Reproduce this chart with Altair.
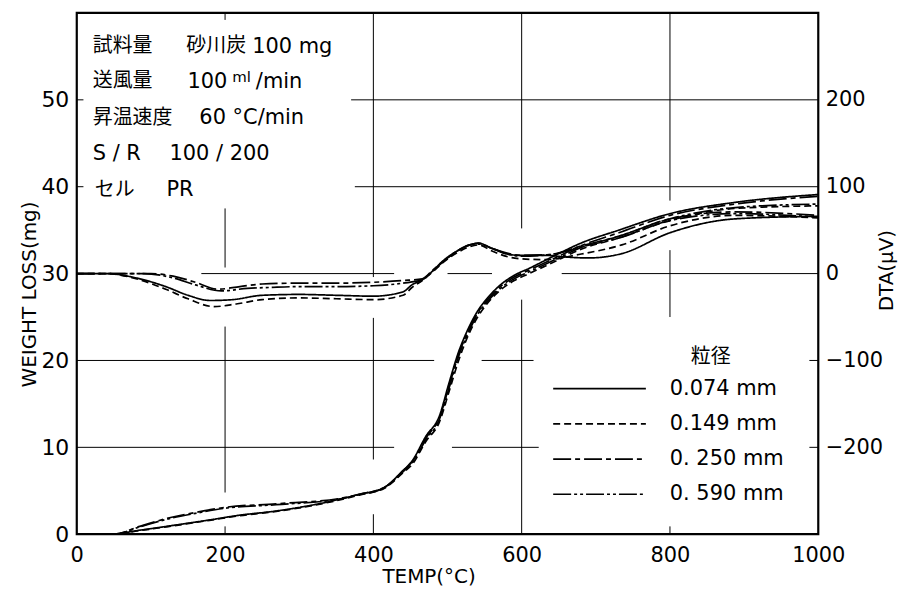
import altair as alt
import pandas as pd

# ---------------- data ----------------
sizes = ["0.074 mm", "0.149 mm", "0. 250 mm", "0. 590 mm"]
dash_styles = [[1, 0], [7, 4], [18, 4, 5, 4], [18, 3, 3, 3, 3, 3]]

# TG (weight loss, mg)
tg_t_a = [0, 44, 85, 125, 179, 219, 269, 336, 381, 415, 439, 452, 471, 489, 502, 515, 526, 540, 555, 570, 590, 610, 650, 677, 731, 800, 888, 1000]
tg_074 = [0, 0, 0.46, 0.95, 1.64, 2.18, 2.67, 3.67, 4.59, 5.39, 7.26, 8.4, 11.3, 13.6, 17.4, 21.0, 23.3, 25.6, 27.3, 28.6, 29.8, 30.6, 32.3, 33.4, 35.0, 36.9, 38.2, 39.1]
tg_149 = [0, 0, 0.42, 0.9, 1.6, 2.12, 2.62, 3.6, 4.5, 5.3, 7.0, 8.0, 10.7, 12.9, 16.4, 20.0, 22.5, 24.9, 26.7, 28.0, 29.2, 30.0, 31.6, 32.7, 34.1, 36.1, 37.5, 37.8]
tg_t_b = [0, 50, 85, 125, 160, 201, 269, 354, 381, 415, 439, 452, 471, 489, 502, 515, 526, 540, 555, 570, 590, 610, 650, 677, 731, 800, 888, 1000]
tg_250 = [0, 0, 0.9, 1.9, 2.5, 3.1, 3.5, 4.1, 4.6, 5.4, 7.2, 8.3, 11.1, 13.4, 17.0, 20.7, 23.0, 25.4, 27.1, 28.4, 29.6, 30.4, 32.0, 33.1, 34.7, 36.7, 38.0, 38.9]
tg_590 = [0, 0, 0.85, 1.8, 2.4, 3.0, 3.4, 4.05, 4.55, 5.35, 7.1, 8.2, 10.9, 13.2, 16.8, 20.5, 22.8, 25.2, 26.9, 28.2, 29.4, 30.2, 31.8, 32.9, 34.3, 36.3, 37.6, 38.0]

# DTA (uV)
dta_t_074 = [0, 40, 80, 120, 150, 180, 210, 250, 300, 350, 400, 440, 452, 466, 480, 493, 515, 530, 542, 560, 583, 600, 632, 660, 690, 735, 800, 888, 1000]
dta_074 = [0, 0, -5, -15, -25, -31, -30, -25, -24, -25, -26, -21, -13, -7, 3, 14, 27, 33, 35, 29, 22, 21, 21, 19, 18, 23, 47, 63, 66]
dta_t_149 = [0, 40, 80, 120, 150, 185, 215, 250, 300, 350, 400, 440, 452, 466, 480, 493, 515, 530, 542, 560, 583, 600, 632, 677, 735, 800, 888, 1000]
dta_149 = [0, 0, -6, -18, -29, -38, -35, -30, -28, -29, -30, -25, -16, -8, 2, 12, 25, 31, 33, 26, 19, 17, 16, 22, 33, 55, 67, 64]
dta_t_250 = [0, 100, 130, 160, 190, 220, 250, 300, 350, 400, 440, 466, 480, 493, 515, 530, 542, 560, 583, 600, 640, 677, 735, 800, 888, 1000]
dta_250 = [0, 0, -3, -10, -18, -15, -12, -11, -11, -10, -8, -6, 4, 13, 27, 33, 35, 29, 23, 21, 22, 31, 44, 63, 71, 67]
dta_t_590 = [0, 90, 130, 160, 195, 230, 260, 300, 350, 400, 440, 466, 480, 493, 515, 530, 542, 560, 583, 600, 640, 677, 735, 800, 888, 1000]
dta_590 = [0, 0, -5, -13, -20, -17, -16, -15, -15, -14, -11, -7, 3, 13, 27, 33, 34, 29, 22, 20, 22, 30, 42, 61, 69, 65]

# partial grid lines (broken around texts and curves), in data units
h_grid_w = [50, 40, 30, 30, 30, 20, 20, 10, 10, 50, 40, 20, 10]
h_grid_t1 = [370, 375, 168, 500, 654, 0, 546, 0, 506, 0, 0, 988, 988]
h_grid_t2 = [1000, 1000, 428, 560, 1000, 482, 616, 428, 623, 9, 9, 1000, 1000]
v_grid_t = [200, 200, 200, 200, 400, 400, 400, 600, 600, 800, 800, 800]
v_grid_w1 = [60, 37.5, 23.9, 0.9, 60, 24.9, 2.3, 60, 27.0, 60, 32.7, 0.9]
v_grid_w2 = [59.2, 30.7, 4.8, 0, 29.6, 8.6, 0, 35.2, 0, 38.4, 25.0, 0]

x_ticks = [0, 200, 400, 600, 800, 1000]
y_ticks = [0, 10, 20, 30, 40, 50]
dta_ticks = [-200, -100, 0, 100, 200]

# annotation block
ann_jp = ["試料量", "砂川炭", "送風量", "昇温速度", "セル"]
ann_jp_t = [21.5, 147.8, 21.5, 21.5, 24.2]
ann_jp_w = [56.2, 56.2, 52.2, 47.95, 39.6]
ann_lat = ["100 mg", "100", "/min", "60 °C/min", "S / R", "100 / 200", "PR"]
ann_lat_t = [236.6, 149.2, 241.5, 165.3, 21.5, 125.0, 121.0]
ann_lat_w = [56.1, 52.1, 52.0, 47.95, 43.8, 43.8, 39.6]
sup_text = ["ml"]
sup_t = [209.7]
sup_w = [52.6]

# ---------------- frames ----------------
def build(tlist, vlist, name, col):
    return pd.DataFrame({"T": tlist, col: vlist, "size": name})

tg_df = pd.concat([
    build(tg_t_a, tg_074, sizes[0], "W"),
    build(tg_t_a, tg_149, sizes[1], "W"),
    build(tg_t_b, tg_250, sizes[2], "W"),
    build(tg_t_b, tg_590, sizes[3], "W"),
])
dta_df = pd.concat([
    build(dta_t_074, dta_074, sizes[0], "D"),
    build(dta_t_149, dta_149, sizes[1], "D"),
    build(dta_t_250, dta_250, sizes[2], "D"),
    build(dta_t_590, dta_590, sizes[3], "D"),
])
hg_df = pd.DataFrame({"W": h_grid_w, "T1": h_grid_t1, "T2": h_grid_t2})
vg_df = pd.DataFrame({"T": v_grid_t, "W1": v_grid_w1, "W2": v_grid_w2})

# legend rows (placed in data units inside the plot)
leg_top_w, leg_step = 16.75, 4.05
leg_df = pd.DataFrame({
    "size": sizes,
    "T1": [642.5] * 4,
    "T2": [767.5] * 4,
    "TL": [799.7] * 4,
    "W": [leg_top_w - i * leg_step for i in range(4)],
})
leg_title_df = pd.DataFrame({"text": ["粒径"], "T": [855], "W": [20.4]})

jp_df = pd.DataFrame({"text": ann_jp, "T": ann_jp_t, "W": ann_jp_w})
lat_df = pd.DataFrame({"text": ann_lat, "T": ann_lat_t, "W": ann_lat_w})
sup_df = pd.DataFrame({"text": sup_text, "T": sup_t, "W": sup_w})

# ---------------- scales / axes ----------------
LAT = "DejaVu Sans"
JP = "Noto Sans CJK JP"
XS = alt.Scale(domain=[0, 1000], nice=False)
YS = alt.Scale(domain=[0, 60], nice=False)
DS = alt.Scale(domain=[-300, 300], nice=False)
XA = alt.Axis(values=x_ticks, format="d", title="TEMP(°C)", grid=False, domain=False, ticks=False,
              labelFontSize=21, labelPadding=10, labelFont=LAT, labelFlush=False,
              titleFont=LAT, titleFontSize=20, titleFontWeight="normal",
              titleX=353, titleY=48, titleBaseline="alphabetic", titleAlign="center")
YA = alt.Axis(values=y_ticks, title="WEIGHT LOSS(mg)", grid=False, domain=False, ticks=False,
              labelFontSize=22, labelPadding=8, labelFont=LAT, labelFlush=False,
              titleFont=LAT, titleFontSize=20, titleFontWeight="normal",
              titleX=-47, titleY=282, titleAngle=270, titleBaseline="middle", titleAlign="center")
DA = alt.Axis(orient="right", values=dta_ticks, title="DTA(μV)", grid=False, domain=False, ticks=False,
              labelFontSize=21, labelPadding=7, labelFont=LAT, labelFlush=False,
              titleFont=LAT, titleFontSize=20, titleFontWeight="normal",
              titleX=68, titleY=258, titleAngle=270, titleBaseline="middle", titleAlign="center")
DASH = alt.StrokeDash("size:N", scale=alt.Scale(domain=sizes, range=dash_styles), legend=None)

def X(f):
    return alt.X(f, type="quantitative", scale=XS, axis=XA)

def Y(f):
    return alt.Y(f, type="quantitative", scale=YS, axis=YA)

hgrid = alt.Chart(hg_df).mark_rule(color="black", strokeWidth=1).encode(
    x=X("T1"), x2="T2", y=Y("W"))
vgrid = alt.Chart(vg_df).mark_rule(color="black", strokeWidth=1).encode(
    x=X("T"), y=Y("W1"), y2="W2")
tg = alt.Chart(tg_df).mark_line(color="black", strokeWidth=1.7, interpolate="monotone").encode(
    x=X("T"), y=Y("W"), strokeDash=DASH)
leg_lines = alt.Chart(leg_df).mark_rule(color="black", strokeWidth=1.7).encode(
    x=X("T1"), x2="T2", y=Y("W"), strokeDash=DASH)
leg_labels = alt.Chart(leg_df).mark_text(align="left", baseline="middle", font=LAT, fontSize=21,
                                         color="black").encode(x=X("TL"), y=Y("W"), text="size:N")
leg_title = alt.Chart(leg_title_df).mark_text(align="center", baseline="middle", font=JP, fontSize=20,
                                              color="black").encode(x=X("T"), y=Y("W"), text="text:N")
jp_text = alt.Chart(jp_df).mark_text(align="left", baseline="middle", font=JP, fontSize=20,
                                     color="black").encode(x=X("T"), y=Y("W"), text="text:N")
lat_text = alt.Chart(lat_df).mark_text(align="left", baseline="middle", font=LAT, fontSize=21,
                                       color="black").encode(x=X("T"), y=Y("W"), text="text:N")
sup_txt = alt.Chart(sup_df).mark_text(align="left", baseline="middle", font=LAT, fontSize=15,
                                      color="black").encode(x=X("T"), y=Y("W"), text="text:N")

left = alt.layer(hgrid, vgrid, tg, leg_lines, leg_labels, leg_title, jp_text, lat_text, sup_txt)

dta = alt.Chart(dta_df).mark_line(color="black", strokeWidth=1.7, interpolate="monotone").encode(
    x=X("T"), y=alt.Y("D:Q", scale=DS, axis=DA), strokeDash=DASH)

chart = alt.layer(left, dta).resolve_scale(y="independent").properties(
    width=744, height=523,
    padding={"left": 69, "top": 4, "right": 80, "bottom": 54},
    autosize=alt.AutoSizeParams(type="none"),
).configure_view(stroke="black", strokeWidth=2.2).configure_axis(
    labelColor="black", titleColor="black")

chart.save("out.html", embed_options={"renderer": "svg", "actions": False})
